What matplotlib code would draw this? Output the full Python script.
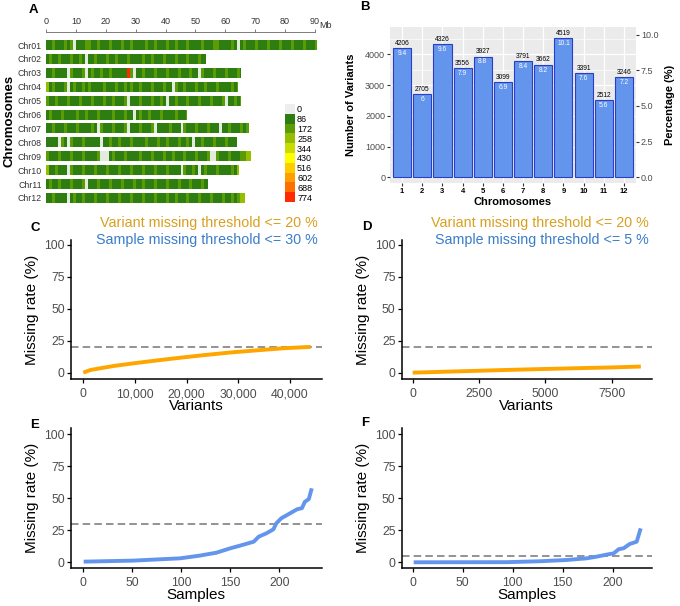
import matplotlib
matplotlib.use('Agg')
import matplotlib.pyplot as plt
import numpy as np

W, H = 680, 606
plt.rcParams['font.family'] = ['Liberation Sans', 'DejaVu Sans']

# ---- data ----
# panel A: SNP density per 1 Mb bin (index into legend_levels)
chroms = ['Chr01', 'Chr02', 'Chr03', 'Chr04', 'Chr05', 'Chr06',
          'Chr07', 'Chr08', 'Chr09', 'Chr10', 'Chr11', 'Chr12']
chrom_len = [90.7, 53.4, 65.1, 64.4, 65.1, 47.3, 67.8, 63.9, 68.5, 64.7, 54.3, 66.6]
density = [
    "1121112120 1112211211 1211121121 1112112111 2112111211 1121112211 1121012111 2111211121 1121112111 2",
    "1211211121 1210112111 2112111211 1121121112 1112111211 1211",
    "1121111021 1120121121 1211111920 1121112111 2111211121 1021112111 211121",
    "3121112012 1121211112 1112112121 1211121112 1102112111 2112111211 11212",
    "2112111211 1211121112 1121112011 1211121121 0112111211 1211121112 011212",
    "1211121111 2112111211 1121112110 1211211121 11121112",
    "1121112111 2111121021 1121112011 1211120111 1211102111 2111211101 12111212",
    "1111021021 1121111101 1211211121 1112111211 2111211210 1121112111 2111",
    "2111211121 1121111200 0121112111 1211121112 1121112111 2111200211 121112233",
    "3112111021 1121112111 2111211121 1121112111 2111102112 1012111211 11213",
    "1211211121 1120111211 1211121112 1121112111 2111211121 11211",
    "1121111012 1121112111 2111211121 1121112111 2112111211 1211121112 1121233",
]
legend_levels = [0, 86, 172, 258, 344, 430, 516, 602, 688, 774]
legend_colors = ['#EEEEEE', '#2E7D10', '#5A9C05', '#96BE00', '#C8DC00',
                 '#FFFF00', '#FFCC00', '#FF9E00', '#FF6E00', '#FF2A00']
gap_color = '#E2EBDD'

# panel B
bar_chr = list(range(1, 13))
bar_counts = [4206, 2705, 4326, 3556, 3927, 3099, 3791, 3662, 4519, 3391, 2512, 3246]
bar_pct = ['9.4', '6', '9.6', '7.9', '8.8', '6.9', '8.4', '8.2', '10.1', '7.6', '5.6', '7.2']

# panels C-F: sorted missing rates
var_x_c = [0, 1300, 3200, 6000, 9700, 14500, 19400, 24000, 29000, 34000, 38700, 44000]
var_miss_c = [0, 2.0, 3.4, 5.3, 7.3, 9.7, 12.0, 14.0, 16.0, 17.6, 19.1, 20.2]
var_x_d = [0, 1000, 2500, 3500, 5000, 6000, 7500, 8600]
var_miss_d = [0, 0.6, 1.5, 2.1, 2.9, 3.4, 4.1, 4.8]
samp_x_e = [1, 51, 99, 119, 136, 150, 160, 174, 179, 187, 194, 197, 202, 211, 218, 223, 226, 230, 233]
samp_miss_e = [0.5, 1.3, 3.1, 5.2, 7.5, 10.9, 13.0, 16.1, 20.0, 22.7, 25.8, 30.5, 34.4, 38.3, 41.4, 42.3, 47.3, 49.4, 57.8]
samp_x_f = [1, 94, 127, 154, 174, 184, 194, 201, 206, 211, 217, 224, 226, 228]
samp_miss_f = [0, 0.1, 0.8, 1.8, 3.1, 4.4, 6.0, 7.0, 10.2, 11.0, 14.3, 16.1, 21.3, 26.5]


def box(l, t, r, b):
    return [l / W, 1 - b / H, (r - l) / W, (b - t) / H]


fig = plt.figure(figsize=(6.8, 6.06), dpi=100)

# ---- panel A ----
axa = fig.add_axes(box(46, 31.7, 46 + 91 * 2.989, 205))
for i, (s, ln) in enumerate(zip(density, chrom_len)):
    lv = [int(c) for c in s.replace(' ', '')]
    nb = min(len(lv), int(np.ceil(ln)))
    starts = np.arange(nb)
    widths = np.minimum(starts + 1, ln) - starts
    cols = [gap_color if v == 0 else legend_colors[v] for v in lv[:nb]]
    axa.barh(np.full(nb, i), widths, left=starts, height=0.72, color=cols, lw=0)
axa.set_xlim(0, 91)
axa.set_ylim(11.51, -0.957)
axa.xaxis.tick_top()
axa.set_xticks(range(0, 91, 10))
axa.tick_params(axis='x', length=2.5, width=0.6, color='#666666', labelsize=6.5,
                labelcolor='#333333', pad=1.5)
axa.set_yticks(range(12))
axa.set_yticklabels(chroms)
axa.tick_params(axis='y', length=0, labelsize=6.3, labelcolor='#333333', pad=3)
for s in ['left', 'right', 'bottom']:
    axa.spines[s].set_visible(False)
axa.spines['top'].set_bounds(0, 90)
axa.spines['top'].set_color('#666666')
axa.spines['top'].set_linewidth(0.6)
fig.text(325 / W, 1 - 25 / H, 'Mb', ha='center', va='center', fontsize=6.5, color='#333333')
fig.text(10 / W, 1 - 121 / H, 'Chromosomes', rotation=90, ha='center', va='center',
         fontsize=9.5, fontweight='bold')

axl = fig.add_axes(box(285, 104, 295, 202))
axl.barh(range(10), 1, height=1.0, color=legend_colors, lw=0)
axl.set_ylim(9.5, -0.5)
axl.set_xlim(0, 1)
axl.set_xticks([])
axl.yaxis.tick_right()
axl.set_yticks(range(10))
axl.set_yticklabels([str(v) for v in legend_levels])
axl.tick_params(axis='y', length=0, labelsize=6.5, pad=1.5)
for s in axl.spines.values():
    s.set_visible(False)

# ---- panel B ----
axb = fig.add_axes(box(390, 26.7, 636, 183.3))
axb.set_facecolor('#EBEBEB')
axb.bar(bar_chr, bar_counts, width=0.9, color='#6495ED', edgecolor='#2B3FC4', lw=0.8, zorder=3)
for x, v, p in zip(bar_chr, bar_counts, bar_pct):
    axb.text(x, v + 40, str(v), ha='center', va='bottom', fontsize=4.8, zorder=4)
    axb.text(x, v - 60, p, ha='center', va='top', fontsize=4.8, color='white', zorder=4)
axb.set_xlim(0.4, 12.6)
axb.set_ylim(-195, 4898)
axb.set_xticks(bar_chr)
axb.set_yticks([0, 1000, 2000, 3000, 4000])
axb.set_yticks(np.arange(500, 4900, 1000), minor=True)
axb.grid(which='major', color='white', lw=0.9)
axb.grid(which='minor', axis='y', color='white', lw=0.45)
axb.set_axisbelow(True)
for s in axb.spines.values():
    s.set_visible(False)
axb.tick_params(axis='y', which='major', length=2, color='#333333', labelsize=6.5,
                labelcolor='#4D4D4D', pad=1.5)
axb.tick_params(axis='y', which='minor', length=0)
axb.tick_params(axis='x', length=2, color='#333333', labelsize=5.5, pad=1.5)
for t in axb.get_xticklabels():
    t.set_fontweight('bold')
axb.set_ylabel('Number of Variants', fontsize=8, fontweight='bold')
axb.yaxis.set_label_coords(-0.14, 0.5)
axb.set_xlabel('Chromosomes', fontsize=8, fontweight='bold')
axb.xaxis.set_label_coords(0.5, -0.0875)
axb2 = axb.twinx()
axb2.set_ylim(-0.42, 10.55)
axb2.set_yticks([0, 2.5, 5, 7.5, 10])
axb2.set_yticklabels(['0.0', '2.5', '5.0', '7.5', '10.0'])
axb2.tick_params(axis='y', length=2, color='#333333', labelsize=6.5,
                 labelcolor='#4D4D4D', pad=1.5)
for s in axb2.spines.values():
    s.set_visible(False)
axb2.set_ylabel('Percentage (%)', fontsize=8, fontweight='bold')
axb2.yaxis.set_label_coords(1.116, 0.5)


# ---- panels C-F ----
def miss_panel(rect, x, y, color, thr, xlim, ylim, xticks, xlabels, xlabel):
    ax = fig.add_axes(rect)
    ax.plot(x, y, color=color, lw=2.8, solid_capstyle='butt', zorder=3)
    ax.axhline(thr, color='#808080', lw=1.2, ls=(0, (4.5, 2.5)), zorder=2)
    ax.set_xlim(*xlim)
    ax.set_ylim(*ylim)
    ax.set_yticks([0, 25, 50, 75, 100])
    ax.set_xticks(xticks)
    ax.set_xticklabels(xlabels)
    for s in ['top', 'right']:
        ax.spines[s].set_visible(False)
    for s in ['left', 'bottom']:
        ax.spines[s].set_linewidth(1.1)
    ax.tick_params(length=3, width=0.9, labelsize=8.8, labelcolor='#4D4D4D')
    ax.tick_params(axis='x', pad=3.4)
    ax.tick_params(axis='y', pad=1.5)
    ax.set_ylabel('Missing rate (%)', fontsize=11)
    ax.set_xlabel(xlabel, fontsize=11)
    return ax


axc = miss_panel(box(71, 240, 321.7, 379.3), var_x_c, var_miss_c, '#FFA500', 20,
                 (-2380, 46140), (-5.2, 103.9), [0, 10000, 20000, 30000, 40000],
                 ['0', '10,000', '20,000', '30,000', '40,000'], 'Variants')
axc.yaxis.set_label_coords(-0.128, 0.5)
axc.xaxis.set_label_coords(0.5, -0.141)

axd = miss_panel(box(401.7, 240, 651.7, 379.3), var_x_d, var_miss_d, '#FFA500', 20,
                 (-415, 9010), (-5.2, 103.9), [0, 2500, 5000, 7500],
                 ['0', '2500', '5000', '7500'], 'Variants')
axd.yaxis.set_label_coords(-0.125, 0.5)
axd.xaxis.set_label_coords(0.5, -0.141)

axe = miss_panel(box(71, 428.3, 321.7, 568.3), samp_x_e, samp_miss_e, '#6495ED', 30,
                 (-11.9, 243.1), (-4.7, 104.7), [0, 50, 100, 150, 200],
                 ['0', '50', '100', '150', '200'], 'Samples')
axe.yaxis.set_label_coords(-0.128, 0.5)
axe.xaxis.set_label_coords(0.5, -0.141)

axf = miss_panel(box(401.7, 428.3, 651.7, 568.3), samp_x_f, samp_miss_f, '#6495ED', 5,
                 (-11, 239), (-4.7, 104.7), [0, 50, 100, 150, 200],
                 ['0', '50', '100', '150', '200'], 'Samples')
axf.yaxis.set_label_coords(-0.125, 0.5)
axf.xaxis.set_label_coords(0.5, -0.141)

# threshold captions
fig.text(318 / W, 1 - 223 / H, 'Variant missing threshold <= 20 %', ha='right', va='center',
         fontsize=10.3, color='#D8A01E')
fig.text(318 / W, 1 - 240 / H, 'Sample missing threshold <= 30 %', ha='right', va='center',
         fontsize=10.3, color='#3A7DC9')
fig.text(648.3 / W, 1 - 223 / H, 'Variant missing threshold <= 20 %', ha='right', va='center',
         fontsize=10.3, color='#D8A01E')
fig.text(648.3 / W, 1 - 240 / H, 'Sample missing threshold <= 5 %', ha='right', va='center',
         fontsize=10.3, color='#3A7DC9')

# panel letters
for lab, x, y in [('A', 33, 10), ('B', 365, 7), ('C', 35, 228), ('D', 367, 227),
                  ('E', 35, 425), ('F', 365, 423)]:
    fig.text(x / W, 1 - y / H, lab, ha='center', va='center', fontsize=9.5, fontweight='bold')

fig.savefig('out.png', dpi=100)
